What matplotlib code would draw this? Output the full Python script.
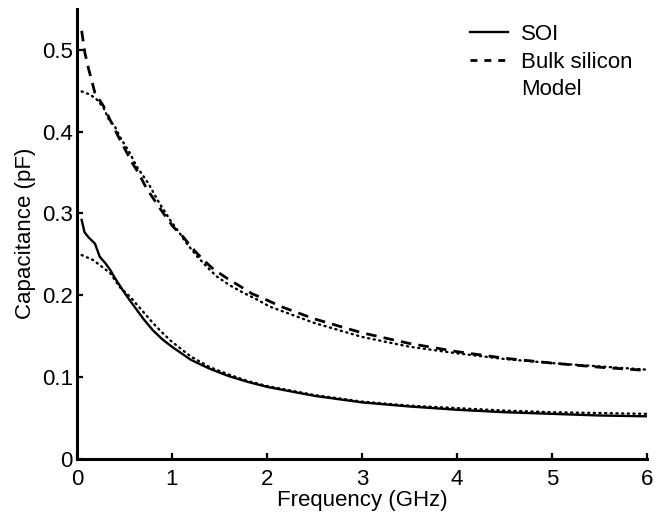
import matplotlib
matplotlib.use("Agg")
import matplotlib.pyplot as plt
from matplotlib.lines import Line2D

plt.rcParams["font.family"] = ["Liberation Sans", "DejaVu Sans"]

# ---- data --------------------------------------------------------------
soi_f = [0.05, 0.08, 0.12, 0.19, 0.24, 0.3, 0.35, 0.4, 0.45, 0.5, 0.58,
         0.7, 0.8, 0.9, 1.0, 1.2, 1.4, 1.6, 1.8, 2.0, 2.5, 3.0, 3.5, 4.0,
         4.5, 5.0, 5.5, 6.0]
soi_c = [0.292, 0.277, 0.271, 0.263, 0.247, 0.239, 0.231, 0.221, 0.212,
         0.203, 0.190, 0.171, 0.157, 0.146, 0.137, 0.121, 0.110, 0.101,
         0.094, 0.088, 0.077, 0.069, 0.064, 0.060, 0.057, 0.055, 0.053,
         0.052]

bulk_f = [0.05, 0.084, 0.12, 0.19, 0.28, 0.35, 0.435, 0.49, 0.575, 0.65,
          0.73, 0.84, 0.91, 1.01, 1.12, 1.21, 1.33, 1.435, 1.575, 1.73,
          1.84, 2.0, 2.15, 2.5, 3.0, 3.5, 4.0, 4.5, 5.0, 5.5, 6.0]
bulk_c = [0.523, 0.496, 0.478, 0.447, 0.431, 0.414, 0.394, 0.382, 0.363,
          0.349, 0.331, 0.312, 0.300, 0.284, 0.271, 0.258, 0.243, 0.232,
          0.221, 0.210, 0.202, 0.194, 0.186, 0.171, 0.154, 0.141, 0.131,
          0.123, 0.117, 0.112, 0.108]

model_soi_f = [0.05, 0.17, 0.26, 0.35, 0.45, 0.56, 0.65, 0.8, 0.9, 1.0,
               1.2, 1.4, 1.6, 1.8, 2.0, 2.5, 3.0, 3.5, 4.0, 4.5, 5.0, 5.5,
               6.0]
model_soi_c = [0.249, 0.243, 0.235, 0.227, 0.210, 0.198, 0.186, 0.166,
               0.154, 0.143, 0.125, 0.112, 0.103, 0.095, 0.089, 0.078,
               0.070, 0.065, 0.062, 0.059, 0.057, 0.056, 0.055]

model_bulk_f = [0.05, 0.14, 0.21, 0.28, 0.33, 0.40, 0.45, 0.56, 0.63, 0.75,
                0.87, 0.98, 1.08, 1.15, 1.26, 1.365, 1.47, 1.61, 1.75, 1.89,
                2.03, 2.5, 3.0, 3.5, 4.0, 4.5, 5.0, 5.5, 6.0]
model_bulk_c = [0.449, 0.445, 0.439, 0.429, 0.416, 0.406, 0.394, 0.373,
                0.357, 0.337, 0.312, 0.292, 0.276, 0.264, 0.248, 0.235,
                0.223, 0.212, 0.203, 0.195, 0.186, 0.166, 0.149, 0.137,
                0.129, 0.122, 0.117, 0.113, 0.109]

x_ticks = [0, 1, 2, 3, 4, 5, 6]
y_ticks = [0, 0.1, 0.2, 0.3, 0.4, 0.5]
y_tick_labels = ["0", "0.1", "0.2", "0.3", "0.4", "0.5"]

# ---- figure ------------------------------------------------------------
fig = plt.figure(figsize=(6.63, 5.15), dpi=100)
ax = fig.add_axes([0.116, 0.109, 0.860, 0.874])

dots = dict(color="black", lw=1.7, linestyle=(0, (0.5, 1.9)),
            dash_capstyle="round")
ax.plot(model_soi_f, model_soi_c, **dots)
ax.plot(model_bulk_f, model_bulk_c, **dots)
ax.plot(soi_f, soi_c, color="black", lw=1.7)
ax.plot(bulk_f, bulk_c, color="black", lw=2.0, linestyle=(0, (3.8, 2.6)))

ax.set_xlim(0, 6)
ax.set_ylim(0, 0.55)
ax.set_xticks(x_ticks)
ax.set_yticks(y_ticks, y_tick_labels)
ax.tick_params(direction="in", length=4, width=1.6, labelsize=16, pad=3)
ax.tick_params(axis="x", pad=7)
for s in ("top", "right"):
    ax.spines[s].set_visible(False)
for s in ("left", "bottom"):
    ax.spines[s].set_linewidth(2.2)

ax.set_xlabel("Frequency (GHz)", fontsize=16, labelpad=0)
ax.set_ylabel("Capacitance (pF)", fontsize=16, labelpad=4)

handles = [Line2D([], [], color="black", lw=1.7),
           Line2D([], [], color="black", lw=2.0, linestyle=(0, (2.5, 2.5))),
           Line2D([], [], linestyle="none")]
ax.legend(handles, ["SOI", "Bulk silicon", "Model"], loc="upper left",
          bbox_to_anchor=(0.692, 0.975), bbox_transform=fig.transFigure,
          frameon=False, fontsize=16, handlelength=1.7, handletextpad=0.6,
          labelspacing=0.3, borderpad=0)

fig.savefig("out.png", dpi=100)
